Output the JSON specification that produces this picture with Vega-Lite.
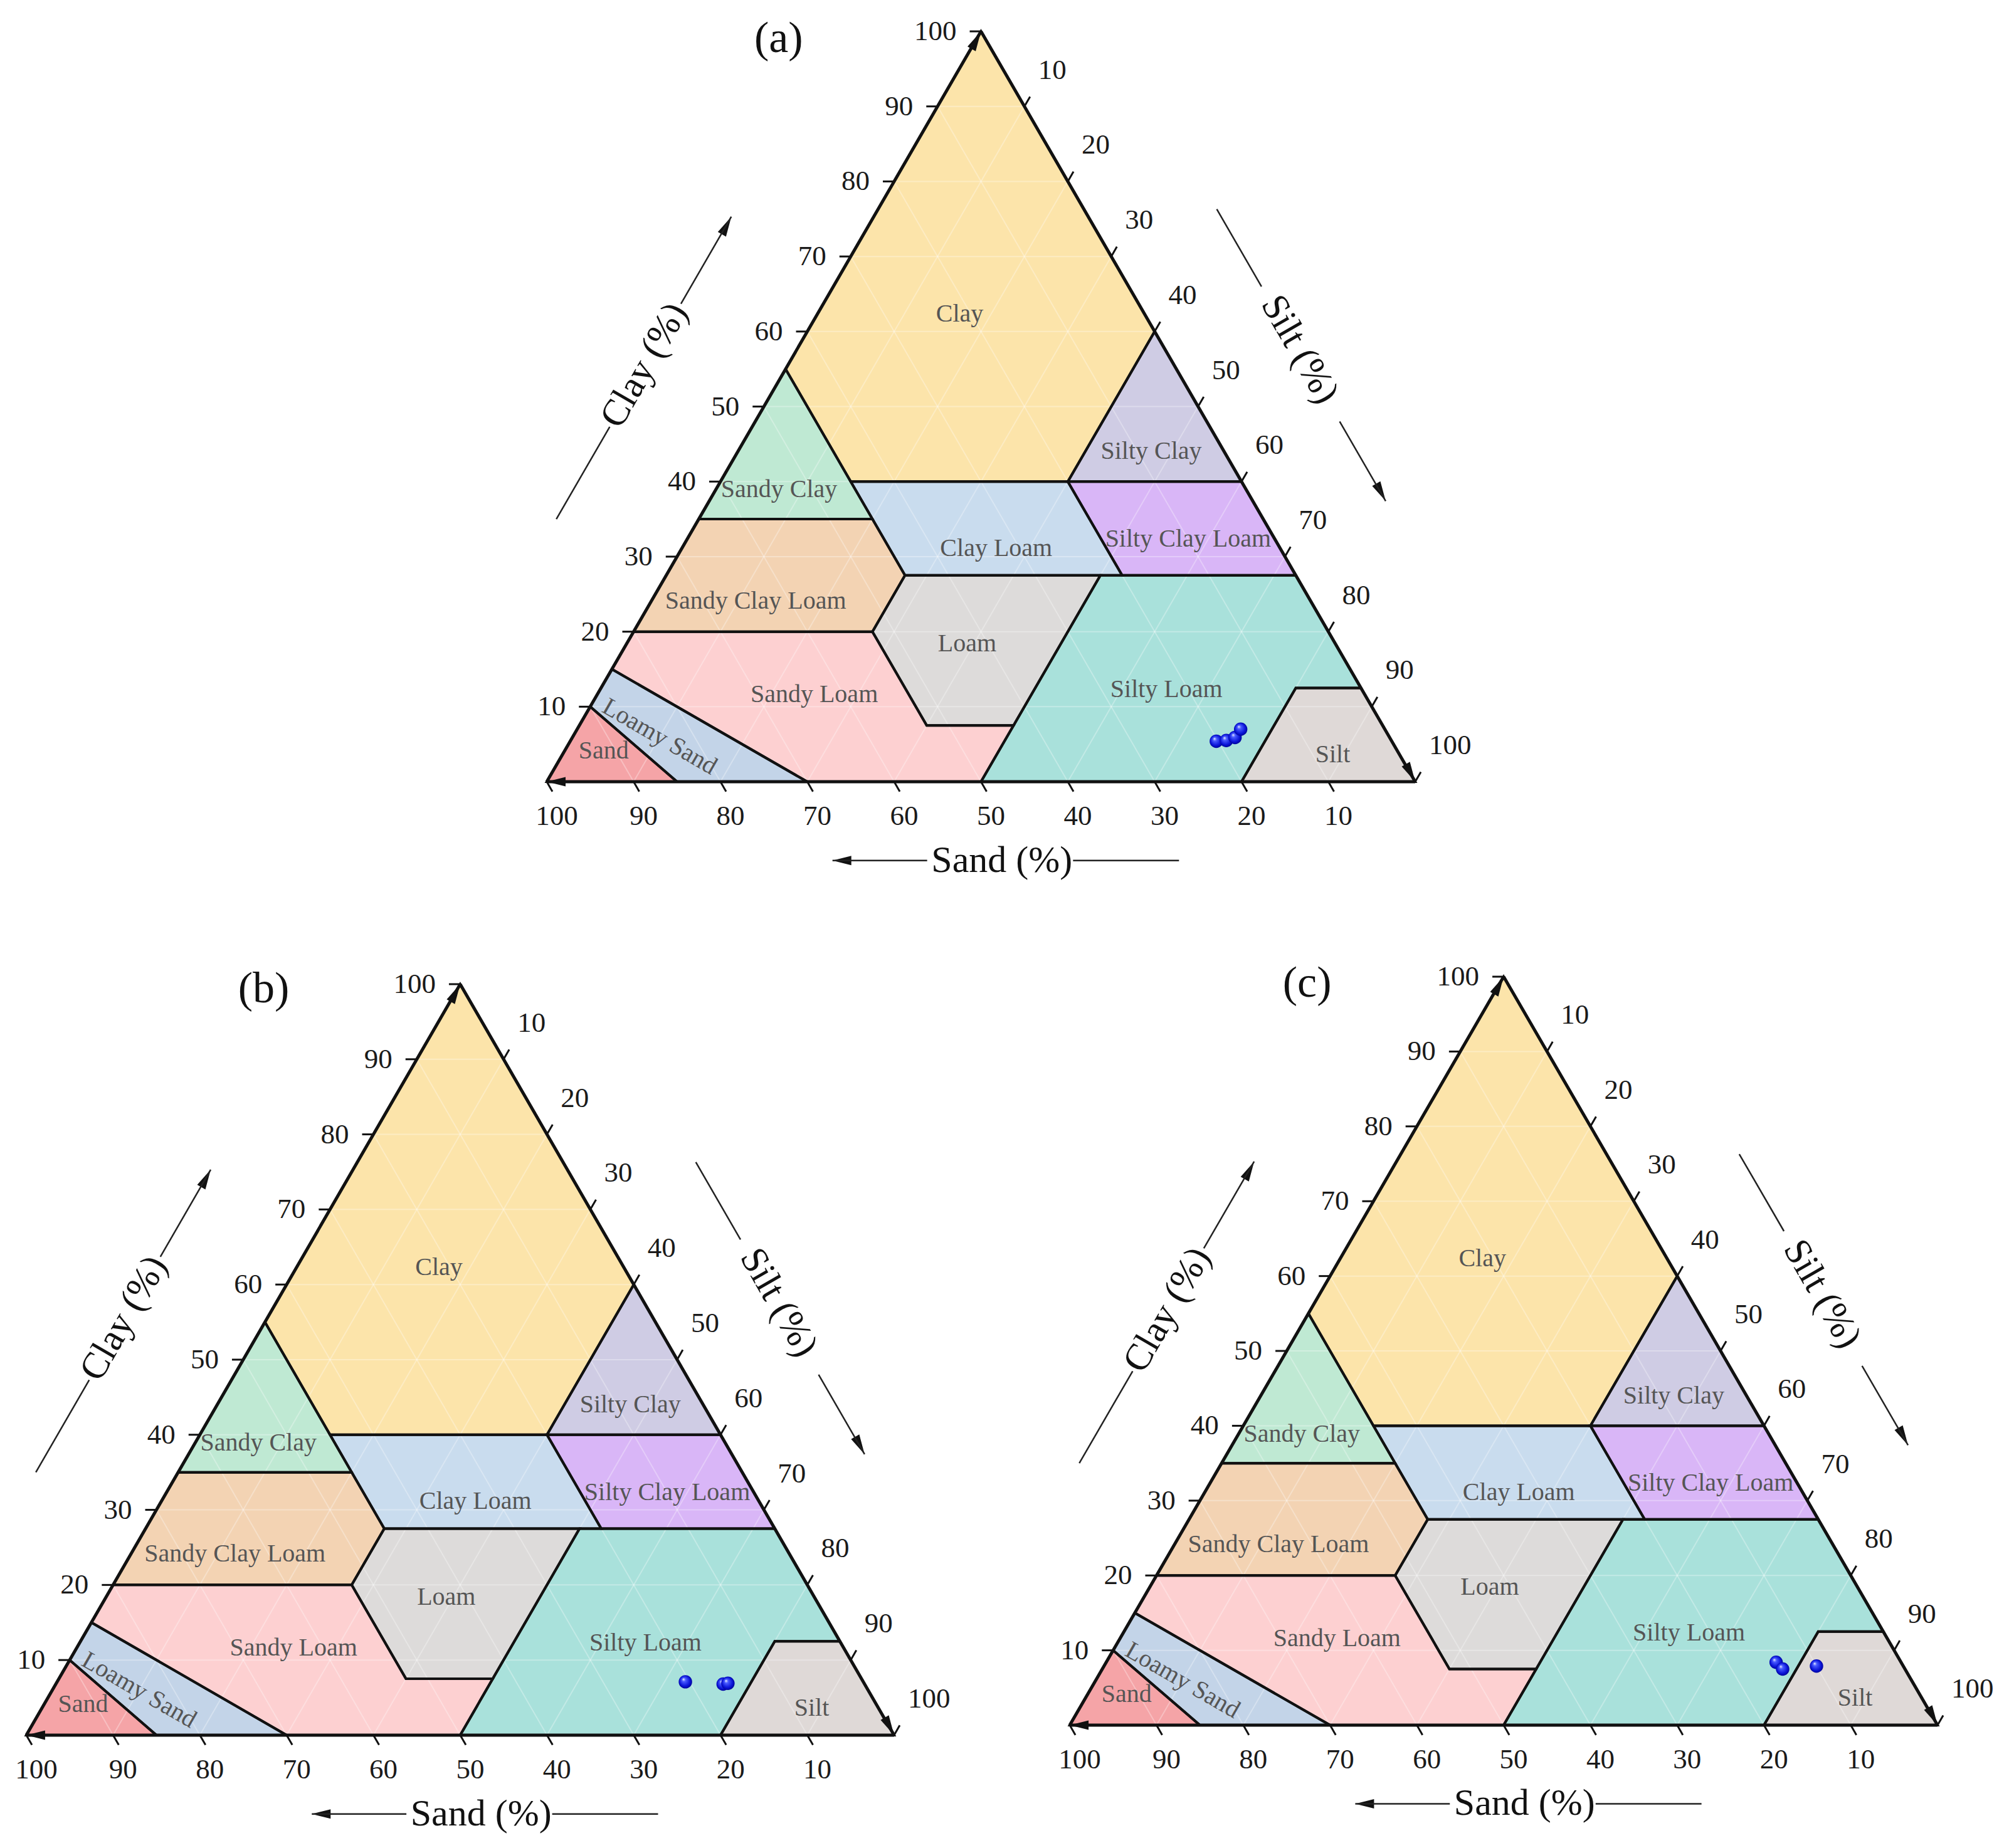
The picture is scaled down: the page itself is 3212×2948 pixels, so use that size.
{
"$schema": "https://vega.github.io/schema/vega-lite/v6.json",
"padding": 0,
"spacing": 0,
"background": "white",
"config": {"view": {"stroke": null}, "concat": {"spacing": 0}},
"datasets": {
"regions": [
{"cls":"Clay","i":0,"silt":0,"clay":100},{"cls":"Clay","i":1,"silt":40,"clay":60},{"cls":"Clay","i":2,"silt":40,"clay":40},{"cls":"Clay","i":3,"silt":15,"clay":40},{"cls":"Clay","i":4,"silt":0,"clay":55},
{"cls":"Silty Clay","i":0,"silt":40,"clay":60},{"cls":"Silty Clay","i":1,"silt":60,"clay":40},{"cls":"Silty Clay","i":2,"silt":40,"clay":40},
{"cls":"Sandy Clay","i":0,"silt":0,"clay":55},{"cls":"Sandy Clay","i":1,"silt":15,"clay":40},{"cls":"Sandy Clay","i":2,"silt":20,"clay":35},{"cls":"Sandy Clay","i":3,"silt":0,"clay":35},
{"cls":"Sandy Clay Loam","i":0,"silt":0,"clay":35},{"cls":"Sandy Clay Loam","i":1,"silt":20,"clay":35},{"cls":"Sandy Clay Loam","i":2,"silt":27.5,"clay":27.5},{"cls":"Sandy Clay Loam","i":3,"silt":27.5,"clay":20},{"cls":"Sandy Clay Loam","i":4,"silt":0,"clay":20},
{"cls":"Clay Loam","i":0,"silt":15,"clay":40},{"cls":"Clay Loam","i":1,"silt":40,"clay":40},{"cls":"Clay Loam","i":2,"silt":52.5,"clay":27.5},{"cls":"Clay Loam","i":3,"silt":27.5,"clay":27.5},{"cls":"Clay Loam","i":4,"silt":20,"clay":35},
{"cls":"Silty Clay Loam","i":0,"silt":40,"clay":40},{"cls":"Silty Clay Loam","i":1,"silt":60,"clay":40},{"cls":"Silty Clay Loam","i":2,"silt":72.5,"clay":27.5},{"cls":"Silty Clay Loam","i":3,"silt":52.5,"clay":27.5},
{"cls":"Loam","i":0,"silt":27.5,"clay":27.5},{"cls":"Loam","i":1,"silt":50,"clay":27.5},{"cls":"Loam","i":2,"silt":50,"clay":7.5},{"cls":"Loam","i":3,"silt":40,"clay":7.5},{"cls":"Loam","i":4,"silt":27.5,"clay":20},
{"cls":"Silty Loam","i":0,"silt":50,"clay":27.5},{"cls":"Silty Loam","i":1,"silt":72.5,"clay":27.5},{"cls":"Silty Loam","i":2,"silt":87.5,"clay":12.5},{"cls":"Silty Loam","i":3,"silt":80,"clay":12.5},{"cls":"Silty Loam","i":4,"silt":80,"clay":0},{"cls":"Silty Loam","i":5,"silt":50,"clay":0},{"cls":"Silty Loam","i":6,"silt":50,"clay":7.5},
{"cls":"Silt","i":0,"silt":80,"clay":12.5},{"cls":"Silt","i":1,"silt":87.5,"clay":12.5},{"cls":"Silt","i":2,"silt":100,"clay":0},{"cls":"Silt","i":3,"silt":80,"clay":0},
{"cls":"Sandy Loam","i":0,"silt":0,"clay":20},{"cls":"Sandy Loam","i":1,"silt":27.5,"clay":20},{"cls":"Sandy Loam","i":2,"silt":40,"clay":7.5},{"cls":"Sandy Loam","i":3,"silt":50,"clay":7.5},{"cls":"Sandy Loam","i":4,"silt":50,"clay":0},{"cls":"Sandy Loam","i":5,"silt":30,"clay":0},{"cls":"Sandy Loam","i":6,"silt":0,"clay":15},
{"cls":"Loamy Sand","i":0,"silt":0,"clay":15},{"cls":"Loamy Sand","i":1,"silt":30,"clay":0},{"cls":"Loamy Sand","i":2,"silt":15,"clay":0},{"cls":"Loamy Sand","i":3,"silt":0,"clay":10},
{"cls":"Sand","i":0,"silt":0,"clay":10},{"cls":"Sand","i":1,"silt":15,"clay":0},{"cls":"Sand","i":2,"silt":0,"clay":0}
],
"grid": [
{"silt":0,"clay":10,"silt2":90,"clay2":10},{"silt":10,"clay":0,"silt2":10,"clay2":90},{"silt":90,"clay":0,"silt2":0,"clay2":90},
{"silt":0,"clay":20,"silt2":80,"clay2":20},{"silt":20,"clay":0,"silt2":20,"clay2":80},{"silt":80,"clay":0,"silt2":0,"clay2":80},
{"silt":0,"clay":30,"silt2":70,"clay2":30},{"silt":30,"clay":0,"silt2":30,"clay2":70},{"silt":70,"clay":0,"silt2":0,"clay2":70},
{"silt":0,"clay":40,"silt2":60,"clay2":40},{"silt":40,"clay":0,"silt2":40,"clay2":60},{"silt":60,"clay":0,"silt2":0,"clay2":60},
{"silt":0,"clay":50,"silt2":50,"clay2":50},{"silt":50,"clay":0,"silt2":50,"clay2":50},{"silt":50,"clay":0,"silt2":0,"clay2":50},
{"silt":0,"clay":60,"silt2":40,"clay2":60},{"silt":60,"clay":0,"silt2":60,"clay2":40},{"silt":40,"clay":0,"silt2":0,"clay2":40},
{"silt":0,"clay":70,"silt2":30,"clay2":70},{"silt":70,"clay":0,"silt2":70,"clay2":30},{"silt":30,"clay":0,"silt2":0,"clay2":30},
{"silt":0,"clay":80,"silt2":20,"clay2":80},{"silt":80,"clay":0,"silt2":80,"clay2":20},{"silt":20,"clay":0,"silt2":0,"clay2":20},
{"silt":0,"clay":90,"silt2":10,"clay2":90},{"silt":90,"clay":0,"silt2":90,"clay2":10},{"silt":10,"clay":0,"silt2":0,"clay2":10}
],
"edges": [
{"silt":0,"clay":0,"silt2":100,"clay2":0},{"silt":0,"clay":0,"silt2":0,"clay2":100},{"silt":100,"clay":0,"silt2":0,"clay2":100}
],
"ticks": [
{"axis":"clay","k":10,"silt":0,"clay":10},{"axis":"clay","k":20,"silt":0,"clay":20},{"axis":"clay","k":30,"silt":0,"clay":30},{"axis":"clay","k":40,"silt":0,"clay":40},{"axis":"clay","k":50,"silt":0,"clay":50},{"axis":"clay","k":60,"silt":0,"clay":60},{"axis":"clay","k":70,"silt":0,"clay":70},{"axis":"clay","k":80,"silt":0,"clay":80},{"axis":"clay","k":90,"silt":0,"clay":90},{"axis":"clay","k":100,"silt":0,"clay":100},
{"axis":"sand","k":10,"silt":90,"clay":0},{"axis":"sand","k":20,"silt":80,"clay":0},{"axis":"sand","k":30,"silt":70,"clay":0},{"axis":"sand","k":40,"silt":60,"clay":0},{"axis":"sand","k":50,"silt":50,"clay":0},{"axis":"sand","k":60,"silt":40,"clay":0},{"axis":"sand","k":70,"silt":30,"clay":0},{"axis":"sand","k":80,"silt":20,"clay":0},{"axis":"sand","k":90,"silt":10,"clay":0},{"axis":"sand","k":100,"silt":0,"clay":0},
{"axis":"silt","k":10,"silt":10,"clay":90},{"axis":"silt","k":20,"silt":20,"clay":80},{"axis":"silt","k":30,"silt":30,"clay":70},{"axis":"silt","k":40,"silt":40,"clay":60},{"axis":"silt","k":50,"silt":50,"clay":50},{"axis":"silt","k":60,"silt":60,"clay":40},{"axis":"silt","k":70,"silt":70,"clay":30},{"axis":"silt","k":80,"silt":80,"clay":20},{"axis":"silt","k":90,"silt":90,"clay":10},{"axis":"silt","k":100,"silt":100,"clay":0}
],
"arrows": [
{"axis":"clay","silt":0,"clay":100},{"axis":"clay","silt":-16.4,"clay":75.3},
{"axis":"sand","silt":0,"clay":0},{"axis":"sand","silt":38.15,"clay":-10.5},
{"axis":"silt","silt":100,"clay":0},{"axis":"silt","silt":77.9,"clay":37.4}
],
"titleLines": [
{"axis":"clay","silt":-16.4,"clay":35,"silt2":-16.4,"clay2":47.3},{"axis":"clay","silt":-16.4,"clay":63.7,"silt2":-16.4,"clay2":75.3},
{"axis":"silt","silt":39,"clay":76.3,"silt2":49.3,"clay2":66},{"axis":"silt","silt":67.3,"clay":48,"silt2":77.9,"clay2":37.4},
{"axis":"sand","silt":38.15,"clay":-10.5,"silt2":49.05,"clay2":-10.5},{"axis":"sand","silt":65.85,"clay":-10.5,"silt2":78.05,"clay2":-10.5}
],
"titles": [
{"axis":"clay","text":"Clay (%)","silt":-16.5,"clay":55.5},
{"axis":"silt","text":"Silt (%)","silt":57.9,"clay":57.6},
{"axis":"sand","text":"Sand (%)","silt":57.65,"clay":-10.5}
],
"classLabels": [
{"cls":"Clay","silt":16.4,"clay":62.3},{"cls":"Silty Clay","silt":47.6,"clay":44},{"cls":"Sandy Clay","silt":7.3,"clay":38.9},{"cls":"Clay Loam","silt":36.2,"clay":31.1},{"cls":"Silty Clay Loam","silt":57.7,"clay":32.3},{"cls":"Sandy Clay Loam","silt":12.0,"clay":24.1},{"cls":"Loam","silt":39.2,"clay":18.4},{"cls":"Silty Loam","silt":65.2,"clay":12.3},{"cls":"Sandy Loam","silt":25,"clay":11.6},{"cls":"Loamy Sand","silt":10,"clay":6},{"cls":"Sand","silt":4.5,"clay":4.1},{"cls":"Silt","silt":88.7,"clay":3.6}
],
"panelTags": [
{"panel":"a","text":"(a)","silt":-22.8,"clay":99},{"panel":"b","text":"(b)","silt":-22.3,"clay":99.3},{"panel":"c","text":"(c)","silt":-22.2,"clay":99.1}
],
"samples": [
{"panel":"a","silt":74.4,"clay":5.4},{"panel":"a","silt":75.5,"clay":5.5},{"panel":"a","silt":76.3,"clay":5.9},{"panel":"a","silt":76.4,"clay":7.0},
{"panel":"b","silt":72.4,"clay":7.1},{"panel":"b","silt":76.9,"clay":6.8},{"panel":"b","silt":77.4,"clay":6.9},
{"panel":"c","silt":77.2,"clay":8.4},{"panel":"c","silt":78.4,"clay":7.5},{"panel":"c","silt":82.1,"clay":7.9}
]
},
"vconcat": [
{
"width": 3212, "height": 1460,
"resolve": {"scale": {"shape": "independent"}},
"encoding": {
"x": {"field": "x", "type": "quantitative", "scale": {"domain": [-62.96, 168.95], "nice": false, "zero": false}, "axis": null},
"y": {"field": "clay", "type": "quantitative", "scale": {"domain": [-17.79, 104.18], "nice": false, "zero": false}, "axis": null}
},
"layer": [
{"data": {"name": "regions"}, "transform": [{"calculate": "datum.silt + datum.clay / 2", "as": "x"}], "mark": {"type": "line", "interpolate": "linear-closed", "strokeWidth": 0}, "encoding": {"fill": {"field": "cls", "type": "nominal", "scale": {"domain": ["Clay","Silty Clay","Sandy Clay","Sandy Clay Loam","Clay Loam","Silty Clay Loam","Loam","Silty Loam","Sandy Loam","Loamy Sand","Sand","Silt"], "range": ["#fce4aa","#cfcce4","#bfe9d3","#f3d3b3","#c9dcee","#d9b6f7","#dddbda","#a9e1db","#fdd0d1","#c3d4e8","#f5a4a7","#dfd9d7"]}, "legend": null}, "detail": {"field": "cls"}, "order": {"field": "i", "type": "quantitative"}}},
{"data": {"name": "grid"}, "transform": [{"calculate": "datum.silt + datum.clay / 2", "as": "x"}, {"calculate": "datum.silt2 + datum.clay2 / 2", "as": "x2"}], "mark": {"type": "rule", "color": "#ffffff", "strokeWidth": 2, "opacity": 0.3}, "encoding": {"x2": {"field": "x2"}, "y2": {"field": "clay2"}}},
{"data": {"name": "regions"}, "transform": [{"calculate": "datum.silt + datum.clay / 2", "as": "x"}], "mark": {"type": "line", "interpolate": "linear-closed", "color": "#111111", "strokeWidth": 4, "strokeJoin": "miter"}, "encoding": {"detail": {"field": "cls"}, "order": {"field": "i", "type": "quantitative"}}},
{"data": {"name": "edges"}, "transform": [{"calculate": "datum.silt + datum.clay / 2", "as": "x"}, {"calculate": "datum.silt2 + datum.clay2 / 2", "as": "x2"}], "mark": {"type": "rule", "color": "#111111", "strokeWidth": 5}, "encoding": {"x2": {"field": "x2"}, "y2": {"field": "clay2"}}},
{"data": {"name": "ticks"}, "transform": [{"calculate": "datum.silt + datum.clay / 2", "as": "x"}], "mark": {"type": "point", "filled": false, "stroke": "#111111", "strokeWidth": 3, "size": 1296, "opacity": 1}, "encoding": {"shape": {"field": "axis", "type": "nominal", "scale": {"domain": ["clay","sand","silt"], "range": ["M0,0L-1,0","M0,0L0.5,0.866","M0,0L0.5,-0.866"]}, "legend": null}}},
{"data": {"name": "ticks"}, "transform": [{"filter": "datum.axis === 'clay'"}, {"calculate": "datum.silt + datum.clay / 2", "as": "x"}], "mark": {"type": "text", "align": "right", "baseline": "middle", "dx": -39, "font": "Liberation Serif", "fontSize": 45, "color": "#1a1a1a"}, "encoding": {"text": {"field": "k", "type": "nominal"}}},
{"data": {"name": "ticks"}, "transform": [{"filter": "datum.axis === 'sand'"}, {"calculate": "datum.silt + datum.clay / 2", "as": "x"}], "mark": {"type": "text", "align": "center", "baseline": "middle", "dx": 16, "dy": 55, "font": "Liberation Serif", "fontSize": 45, "color": "#1a1a1a"}, "encoding": {"text": {"field": "k", "type": "nominal"}}},
{"data": {"name": "ticks"}, "transform": [{"filter": "datum.axis === 'silt'"}, {"calculate": "datum.silt + datum.clay / 2", "as": "x"}], "mark": {"type": "text", "align": "left", "baseline": "middle", "dx": 22, "dy": -58, "font": "Liberation Serif", "fontSize": 45, "color": "#1a1a1a"}, "encoding": {"text": {"field": "k", "type": "nominal"}}},
{"data": {"name": "arrows"}, "transform": [{"calculate": "datum.silt + datum.clay / 2", "as": "x"}], "mark": {"type": "point", "filled": true, "fill": "#111111", "strokeWidth": 0, "size": 3600, "opacity": 1}, "encoding": {"shape": {"field": "axis", "type": "nominal", "scale": {"domain": ["clay","sand","silt"], "range": ["M0,0L-0.283,1.058L-0.717,0.808Z","M0,0L1,0.25L1,-0.25Z","M0,0L-0.283,-1.058L-0.717,-0.808Z"]}, "legend": null}}},
{"data": {"name": "titleLines"}, "transform": [{"calculate": "datum.silt + datum.clay / 2", "as": "x"}, {"calculate": "datum.silt2 + datum.clay2 / 2", "as": "x2"}], "mark": {"type": "rule", "color": "#222222", "strokeWidth": 2.5}, "encoding": {"x2": {"field": "x2"}, "y2": {"field": "clay2"}}},
{"data": {"name": "titles"}, "transform": [{"filter": "datum.axis === 'clay'"}, {"calculate": "datum.silt + datum.clay / 2", "as": "x"}], "mark": {"type": "text", "align": "center", "baseline": "middle", "angle": 300, "font": "Liberation Serif", "fontSize": 60, "color": "#111111"}, "encoding": {"text": {"field": "text"}}},
{"data": {"name": "titles"}, "transform": [{"filter": "datum.axis === 'silt'"}, {"calculate": "datum.silt + datum.clay / 2", "as": "x"}], "mark": {"type": "text", "align": "center", "baseline": "middle", "angle": 60, "font": "Liberation Serif", "fontSize": 60, "color": "#111111"}, "encoding": {"text": {"field": "text"}}},
{"data": {"name": "titles"}, "transform": [{"filter": "datum.axis === 'sand'"}, {"calculate": "datum.silt + datum.clay / 2", "as": "x"}], "mark": {"type": "text", "align": "center", "baseline": "middle", "font": "Liberation Serif", "fontSize": 60, "color": "#111111"}, "encoding": {"text": {"field": "text"}}},
{"data": {"name": "classLabels"}, "transform": [{"filter": "datum.cls !== 'Loamy Sand'"}, {"calculate": "datum.silt + datum.clay / 2", "as": "x"}], "mark": {"type": "text", "align": "center", "baseline": "middle", "font": "Liberation Serif", "fontSize": 40, "color": "#555555"}, "encoding": {"text": {"field": "cls"}}},
{"data": {"name": "classLabels"}, "transform": [{"filter": "datum.cls === 'Loamy Sand'"}, {"calculate": "datum.silt + datum.clay / 2", "as": "x"}], "mark": {"type": "text", "align": "center", "baseline": "middle", "angle": 30, "font": "Liberation Serif", "fontSize": 40, "color": "#555555"}, "encoding": {"text": {"field": "cls"}}},
{"data": {"name": "panelTags"}, "transform": [{"filter": "datum.panel === 'a'"}, {"calculate": "datum.silt + datum.clay / 2", "as": "x"}], "mark": {"type": "text", "align": "center", "baseline": "middle", "font": "Liberation Serif", "fontSize": 70, "color": "#111111"}, "encoding": {"text": {"field": "text"}}},
{"data": {"name": "samples"}, "transform": [{"filter": "datum.panel === 'a'"}, {"calculate": "datum.silt + datum.clay / 2", "as": "x"}], "mark": {"type": "point", "shape": "circle", "filled": true, "size": 460, "opacity": 1, "strokeWidth": 0, "fill": {"gradient": "radial", "x1": 0.35, "y1": 0.3, "r1": 0, "x2": 0.5, "y2": 0.5, "r2": 0.55, "stops": [{"offset": 0, "color": "#f0f4ff"}, {"offset": 0.25, "color": "#4a5cff"}, {"offset": 0.7, "color": "#0a14d8"}, {"offset": 1, "color": "#00008a"}]}}}
]
},
{
"hconcat": [
{
"width": 1606, "height": 1488,
"resolve": {"scale": {"shape": "independent"}},
"encoding": {
"x": {"field": "x", "type": "quantitative", "scale": {"domain": [-3.03, 113.01], "nice": false, "zero": false}, "axis": null},
"y": {"field": "clay", "type": "quantitative", "scale": {"domain": [-15.03, 109.18], "nice": false, "zero": false}, "axis": null}
},
"layer": [
{"data": {"name": "regions"}, "transform": [{"calculate": "datum.silt + datum.clay / 2", "as": "x"}], "mark": {"type": "line", "interpolate": "linear-closed", "strokeWidth": 0}, "encoding": {"fill": {"field": "cls", "type": "nominal", "scale": {"domain": ["Clay","Silty Clay","Sandy Clay","Sandy Clay Loam","Clay Loam","Silty Clay Loam","Loam","Silty Loam","Sandy Loam","Loamy Sand","Sand","Silt"], "range": ["#fce4aa","#cfcce4","#bfe9d3","#f3d3b3","#c9dcee","#d9b6f7","#dddbda","#a9e1db","#fdd0d1","#c3d4e8","#f5a4a7","#dfd9d7"]}, "legend": null}, "detail": {"field": "cls"}, "order": {"field": "i", "type": "quantitative"}}},
{"data": {"name": "grid"}, "transform": [{"calculate": "datum.silt + datum.clay / 2", "as": "x"}, {"calculate": "datum.silt2 + datum.clay2 / 2", "as": "x2"}], "mark": {"type": "rule", "color": "#ffffff", "strokeWidth": 2, "opacity": 0.3}, "encoding": {"x2": {"field": "x2"}, "y2": {"field": "clay2"}}},
{"data": {"name": "regions"}, "transform": [{"calculate": "datum.silt + datum.clay / 2", "as": "x"}], "mark": {"type": "line", "interpolate": "linear-closed", "color": "#111111", "strokeWidth": 4, "strokeJoin": "miter"}, "encoding": {"detail": {"field": "cls"}, "order": {"field": "i", "type": "quantitative"}}},
{"data": {"name": "edges"}, "transform": [{"calculate": "datum.silt + datum.clay / 2", "as": "x"}, {"calculate": "datum.silt2 + datum.clay2 / 2", "as": "x2"}], "mark": {"type": "rule", "color": "#111111", "strokeWidth": 5}, "encoding": {"x2": {"field": "x2"}, "y2": {"field": "clay2"}}},
{"data": {"name": "ticks"}, "transform": [{"calculate": "datum.silt + datum.clay / 2", "as": "x"}], "mark": {"type": "point", "filled": false, "stroke": "#111111", "strokeWidth": 3, "size": 1296, "opacity": 1}, "encoding": {"shape": {"field": "axis", "type": "nominal", "scale": {"domain": ["clay","sand","silt"], "range": ["M0,0L-1,0","M0,0L0.5,0.866","M0,0L0.5,-0.866"]}, "legend": null}}},
{"data": {"name": "ticks"}, "transform": [{"filter": "datum.axis === 'clay'"}, {"calculate": "datum.silt + datum.clay / 2", "as": "x"}], "mark": {"type": "text", "align": "right", "baseline": "middle", "dx": -39, "font": "Liberation Serif", "fontSize": 45, "color": "#1a1a1a"}, "encoding": {"text": {"field": "k", "type": "nominal"}}},
{"data": {"name": "ticks"}, "transform": [{"filter": "datum.axis === 'sand'"}, {"calculate": "datum.silt + datum.clay / 2", "as": "x"}], "mark": {"type": "text", "align": "center", "baseline": "middle", "dx": 16, "dy": 55, "font": "Liberation Serif", "fontSize": 45, "color": "#1a1a1a"}, "encoding": {"text": {"field": "k", "type": "nominal"}}},
{"data": {"name": "ticks"}, "transform": [{"filter": "datum.axis === 'silt'"}, {"calculate": "datum.silt + datum.clay / 2", "as": "x"}], "mark": {"type": "text", "align": "left", "baseline": "middle", "dx": 22, "dy": -58, "font": "Liberation Serif", "fontSize": 45, "color": "#1a1a1a"}, "encoding": {"text": {"field": "k", "type": "nominal"}}},
{"data": {"name": "arrows"}, "transform": [{"calculate": "datum.silt + datum.clay / 2", "as": "x"}], "mark": {"type": "point", "filled": true, "fill": "#111111", "strokeWidth": 0, "size": 3600, "opacity": 1}, "encoding": {"shape": {"field": "axis", "type": "nominal", "scale": {"domain": ["clay","sand","silt"], "range": ["M0,0L-0.283,1.058L-0.717,0.808Z","M0,0L1,0.25L1,-0.25Z","M0,0L-0.283,-1.058L-0.717,-0.808Z"]}, "legend": null}}},
{"data": {"name": "titleLines"}, "transform": [{"calculate": "datum.silt + datum.clay / 2", "as": "x"}, {"calculate": "datum.silt2 + datum.clay2 / 2", "as": "x2"}], "mark": {"type": "rule", "color": "#222222", "strokeWidth": 2.5}, "encoding": {"x2": {"field": "x2"}, "y2": {"field": "clay2"}}},
{"data": {"name": "titles"}, "transform": [{"filter": "datum.axis === 'clay'"}, {"calculate": "datum.silt + datum.clay / 2", "as": "x"}], "mark": {"type": "text", "align": "center", "baseline": "middle", "angle": 300, "font": "Liberation Serif", "fontSize": 60, "color": "#111111"}, "encoding": {"text": {"field": "text"}}},
{"data": {"name": "titles"}, "transform": [{"filter": "datum.axis === 'silt'"}, {"calculate": "datum.silt + datum.clay / 2", "as": "x"}], "mark": {"type": "text", "align": "center", "baseline": "middle", "angle": 60, "font": "Liberation Serif", "fontSize": 60, "color": "#111111"}, "encoding": {"text": {"field": "text"}}},
{"data": {"name": "titles"}, "transform": [{"filter": "datum.axis === 'sand'"}, {"calculate": "datum.silt + datum.clay / 2", "as": "x"}], "mark": {"type": "text", "align": "center", "baseline": "middle", "font": "Liberation Serif", "fontSize": 60, "color": "#111111"}, "encoding": {"text": {"field": "text"}}},
{"data": {"name": "classLabels"}, "transform": [{"filter": "datum.cls !== 'Loamy Sand'"}, {"calculate": "datum.silt + datum.clay / 2", "as": "x"}], "mark": {"type": "text", "align": "center", "baseline": "middle", "font": "Liberation Serif", "fontSize": 40, "color": "#555555"}, "encoding": {"text": {"field": "cls"}}},
{"data": {"name": "classLabels"}, "transform": [{"filter": "datum.cls === 'Loamy Sand'"}, {"calculate": "datum.silt + datum.clay / 2", "as": "x"}], "mark": {"type": "text", "align": "center", "baseline": "middle", "angle": 30, "font": "Liberation Serif", "fontSize": 40, "color": "#555555"}, "encoding": {"text": {"field": "cls"}}},
{"data": {"name": "panelTags"}, "transform": [{"filter": "datum.panel === 'b'"}, {"calculate": "datum.silt + datum.clay / 2", "as": "x"}], "mark": {"type": "text", "align": "center", "baseline": "middle", "font": "Liberation Serif", "fontSize": 70, "color": "#111111"}, "encoding": {"text": {"field": "text"}}},
{"data": {"name": "samples"}, "transform": [{"filter": "datum.panel === 'b'"}, {"calculate": "datum.silt + datum.clay / 2", "as": "x"}], "mark": {"type": "point", "shape": "circle", "filled": true, "size": 460, "opacity": 1, "strokeWidth": 0, "fill": {"gradient": "radial", "x1": 0.35, "y1": 0.3, "r1": 0, "x2": 0.5, "y2": 0.5, "r2": 0.55, "stops": [{"offset": 0, "color": "#f0f4ff"}, {"offset": 0.25, "color": "#4a5cff"}, {"offset": 0.7, "color": "#0a14d8"}, {"offset": 1, "color": "#00008a"}]}}}
]
},
{
"width": 1606, "height": 1488,
"resolve": {"scale": {"shape": "independent"}},
"encoding": {
"x": {"field": "x", "type": "quantitative", "scale": {"domain": [-7.23, 108.81], "nice": false, "zero": false}, "axis": null},
"y": {"field": "clay", "type": "quantitative", "scale": {"domain": [-16.41, 108.21], "nice": false, "zero": false}, "axis": null}
},
"layer": [
{"data": {"name": "regions"}, "transform": [{"calculate": "datum.silt + datum.clay / 2", "as": "x"}], "mark": {"type": "line", "interpolate": "linear-closed", "strokeWidth": 0}, "encoding": {"fill": {"field": "cls", "type": "nominal", "scale": {"domain": ["Clay","Silty Clay","Sandy Clay","Sandy Clay Loam","Clay Loam","Silty Clay Loam","Loam","Silty Loam","Sandy Loam","Loamy Sand","Sand","Silt"], "range": ["#fce4aa","#cfcce4","#bfe9d3","#f3d3b3","#c9dcee","#d9b6f7","#dddbda","#a9e1db","#fdd0d1","#c3d4e8","#f5a4a7","#dfd9d7"]}, "legend": null}, "detail": {"field": "cls"}, "order": {"field": "i", "type": "quantitative"}}},
{"data": {"name": "grid"}, "transform": [{"calculate": "datum.silt + datum.clay / 2", "as": "x"}, {"calculate": "datum.silt2 + datum.clay2 / 2", "as": "x2"}], "mark": {"type": "rule", "color": "#ffffff", "strokeWidth": 2, "opacity": 0.3}, "encoding": {"x2": {"field": "x2"}, "y2": {"field": "clay2"}}},
{"data": {"name": "regions"}, "transform": [{"calculate": "datum.silt + datum.clay / 2", "as": "x"}], "mark": {"type": "line", "interpolate": "linear-closed", "color": "#111111", "strokeWidth": 4, "strokeJoin": "miter"}, "encoding": {"detail": {"field": "cls"}, "order": {"field": "i", "type": "quantitative"}}},
{"data": {"name": "edges"}, "transform": [{"calculate": "datum.silt + datum.clay / 2", "as": "x"}, {"calculate": "datum.silt2 + datum.clay2 / 2", "as": "x2"}], "mark": {"type": "rule", "color": "#111111", "strokeWidth": 5}, "encoding": {"x2": {"field": "x2"}, "y2": {"field": "clay2"}}},
{"data": {"name": "ticks"}, "transform": [{"calculate": "datum.silt + datum.clay / 2", "as": "x"}], "mark": {"type": "point", "filled": false, "stroke": "#111111", "strokeWidth": 3, "size": 1296, "opacity": 1}, "encoding": {"shape": {"field": "axis", "type": "nominal", "scale": {"domain": ["clay","sand","silt"], "range": ["M0,0L-1,0","M0,0L0.5,0.866","M0,0L0.5,-0.866"]}, "legend": null}}},
{"data": {"name": "ticks"}, "transform": [{"filter": "datum.axis === 'clay'"}, {"calculate": "datum.silt + datum.clay / 2", "as": "x"}], "mark": {"type": "text", "align": "right", "baseline": "middle", "dx": -39, "font": "Liberation Serif", "fontSize": 45, "color": "#1a1a1a"}, "encoding": {"text": {"field": "k", "type": "nominal"}}},
{"data": {"name": "ticks"}, "transform": [{"filter": "datum.axis === 'sand'"}, {"calculate": "datum.silt + datum.clay / 2", "as": "x"}], "mark": {"type": "text", "align": "center", "baseline": "middle", "dx": 16, "dy": 55, "font": "Liberation Serif", "fontSize": 45, "color": "#1a1a1a"}, "encoding": {"text": {"field": "k", "type": "nominal"}}},
{"data": {"name": "ticks"}, "transform": [{"filter": "datum.axis === 'silt'"}, {"calculate": "datum.silt + datum.clay / 2", "as": "x"}], "mark": {"type": "text", "align": "left", "baseline": "middle", "dx": 22, "dy": -58, "font": "Liberation Serif", "fontSize": 45, "color": "#1a1a1a"}, "encoding": {"text": {"field": "k", "type": "nominal"}}},
{"data": {"name": "arrows"}, "transform": [{"calculate": "datum.silt + datum.clay / 2", "as": "x"}], "mark": {"type": "point", "filled": true, "fill": "#111111", "strokeWidth": 0, "size": 3600, "opacity": 1}, "encoding": {"shape": {"field": "axis", "type": "nominal", "scale": {"domain": ["clay","sand","silt"], "range": ["M0,0L-0.283,1.058L-0.717,0.808Z","M0,0L1,0.25L1,-0.25Z","M0,0L-0.283,-1.058L-0.717,-0.808Z"]}, "legend": null}}},
{"data": {"name": "titleLines"}, "transform": [{"calculate": "datum.silt + datum.clay / 2", "as": "x"}, {"calculate": "datum.silt2 + datum.clay2 / 2", "as": "x2"}], "mark": {"type": "rule", "color": "#222222", "strokeWidth": 2.5}, "encoding": {"x2": {"field": "x2"}, "y2": {"field": "clay2"}}},
{"data": {"name": "titles"}, "transform": [{"filter": "datum.axis === 'clay'"}, {"calculate": "datum.silt + datum.clay / 2", "as": "x"}], "mark": {"type": "text", "align": "center", "baseline": "middle", "angle": 300, "font": "Liberation Serif", "fontSize": 60, "color": "#111111"}, "encoding": {"text": {"field": "text"}}},
{"data": {"name": "titles"}, "transform": [{"filter": "datum.axis === 'silt'"}, {"calculate": "datum.silt + datum.clay / 2", "as": "x"}], "mark": {"type": "text", "align": "center", "baseline": "middle", "angle": 60, "font": "Liberation Serif", "fontSize": 60, "color": "#111111"}, "encoding": {"text": {"field": "text"}}},
{"data": {"name": "titles"}, "transform": [{"filter": "datum.axis === 'sand'"}, {"calculate": "datum.silt + datum.clay / 2", "as": "x"}], "mark": {"type": "text", "align": "center", "baseline": "middle", "font": "Liberation Serif", "fontSize": 60, "color": "#111111"}, "encoding": {"text": {"field": "text"}}},
{"data": {"name": "classLabels"}, "transform": [{"filter": "datum.cls !== 'Loamy Sand'"}, {"calculate": "datum.silt + datum.clay / 2", "as": "x"}], "mark": {"type": "text", "align": "center", "baseline": "middle", "font": "Liberation Serif", "fontSize": 40, "color": "#555555"}, "encoding": {"text": {"field": "cls"}}},
{"data": {"name": "classLabels"}, "transform": [{"filter": "datum.cls === 'Loamy Sand'"}, {"calculate": "datum.silt + datum.clay / 2", "as": "x"}], "mark": {"type": "text", "align": "center", "baseline": "middle", "angle": 30, "font": "Liberation Serif", "fontSize": 40, "color": "#555555"}, "encoding": {"text": {"field": "cls"}}},
{"data": {"name": "panelTags"}, "transform": [{"filter": "datum.panel === 'c'"}, {"calculate": "datum.silt + datum.clay / 2", "as": "x"}], "mark": {"type": "text", "align": "center", "baseline": "middle", "font": "Liberation Serif", "fontSize": 70, "color": "#111111"}, "encoding": {"text": {"field": "text"}}},
{"data": {"name": "samples"}, "transform": [{"filter": "datum.panel === 'c'"}, {"calculate": "datum.silt + datum.clay / 2", "as": "x"}], "mark": {"type": "point", "shape": "circle", "filled": true, "size": 460, "opacity": 1, "strokeWidth": 0, "fill": {"gradient": "radial", "x1": 0.35, "y1": 0.3, "r1": 0, "x2": 0.5, "y2": 0.5, "r2": 0.55, "stops": [{"offset": 0, "color": "#f0f4ff"}, {"offset": 0.25, "color": "#4a5cff"}, {"offset": 0.7, "color": "#0a14d8"}, {"offset": 1, "color": "#00008a"}]}}}
]
}
],
"spacing": 0
}
]
}
